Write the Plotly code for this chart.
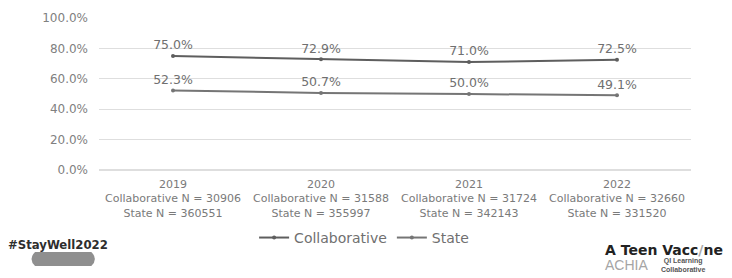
import plotly.graph_objects as go

years = ["2019", "2020", "2021", "2022"]
collab_n = [30906, 31588, 31724, 32660]
state_n = [360551, 355997, 342143, 331520]
collaborative = [75.0, 72.9, 71.0, 72.5]
state = [52.3, 50.7, 50.0, 49.1]
y_ticks = [0, 20, 40, 60, 80, 100]

cats = [f"{y}<br>Collaborative N = {c}<br>State N = {s}" for y, c, s in zip(years, collab_n, state_n)]

FONT = "DejaVu Sans"
fig = go.Figure()
fig.add_trace(go.Scatter(
    x=cats, y=collaborative, name="Collaborative", mode="lines+markers+text",
    line=dict(color="#5e5e5e", width=2), marker=dict(size=4, color="#5e5e5e"),
    text=[f"{v:.1f}%" for v in collaborative], textposition="top center",
    textfont=dict(size=12.5, color="#707070", family=FONT),
))
fig.add_trace(go.Scatter(
    x=cats, y=state, name="State", mode="lines+markers+text",
    line=dict(color="#757575", width=2), marker=dict(size=4, color="#757575"),
    text=[f"{v:.1f}%" for v in state], textposition="top center",
    textfont=dict(size=12.5, color="#707070", family=FONT),
))

# page body has an 8px default margin: figure is sized/offset to compensate
fig.update_layout(
    width=724, height=270,
    margin=dict(l=91, r=41, t=10, b=108, autoexpand=False),
    paper_bgcolor="white", plot_bgcolor="white",
    font=dict(family=FONT, color="#7a7a7a"),
    showlegend=True,
    legend=dict(orientation="h", x=0.262, xanchor="left", y=-0.447, yanchor="middle",
                font=dict(size=14, color="#707070", family=FONT), itemwidth=30,
                tracegroupgap=0),
    xaxis=dict(range=[-0.5, 3.5], showgrid=False, showline=False, ticks="", automargin=False,
               ticklabelstandoff=6,
               tickfont=dict(size=11, color="#7a7a7a", family=FONT)),
    yaxis=dict(range=[0, 100], tickvals=y_ticks, ticktext=[f"{v:.1f}%" for v in y_ticks],
               automargin=False,
               gridcolor="#dedede", gridwidth=1, zeroline=True, zerolinecolor="#dedede",
               tickfont=dict(size=12, color="#808080", family=FONT), ticklabelstandoff=10),
)

# bottom-left branding
fig.add_annotation(xref="paper", yref="paper", x=-0.157, y=-0.487, xanchor="left", yanchor="middle",
                   text="<b>#StayWell2022</b>", showarrow=False,
                   font=dict(size=13, color="#2e2e2e", family="DejaVu Sans Condensed, Liberation Sans"))
fig.add_shape(type="path", xref="paper", yref="paper",
              path="M -0.108,-0.539 L -0.013,-0.539 Q -0.001,-0.585 -0.013,-0.632 L -0.108,-0.632 Q -0.120,-0.585 -0.108,-0.539 Z",
              fillcolor="#8f8f8f", line=dict(width=0))
# bottom-right branding
fig.add_annotation(xref="paper", yref="paper", x=0.851, y=-0.526, xanchor="left", yanchor="middle",
                   text="<b>A Teen Vacc<span style='color:#aaaaaa'>/</span>ne</b>", showarrow=False,
                   font=dict(size=14, color="#222222", family=FONT))
fig.add_annotation(xref="paper", yref="paper", x=0.851, y=-0.625, xanchor="left", yanchor="middle",
                   text="ACHIA", showarrow=False,
                   font=dict(size=14, color="#a5a5a5", family="Liberation Sans"))
fig.add_annotation(xref="paper", yref="paper", x=0.946, y=-0.625, xanchor="left", yanchor="middle",
                   text="<b>QI Learning<br>Collaborative</b>", showarrow=False,
                   font=dict(size=7, color="#555555", family="Liberation Sans"))

fig.write_html("out.html")
